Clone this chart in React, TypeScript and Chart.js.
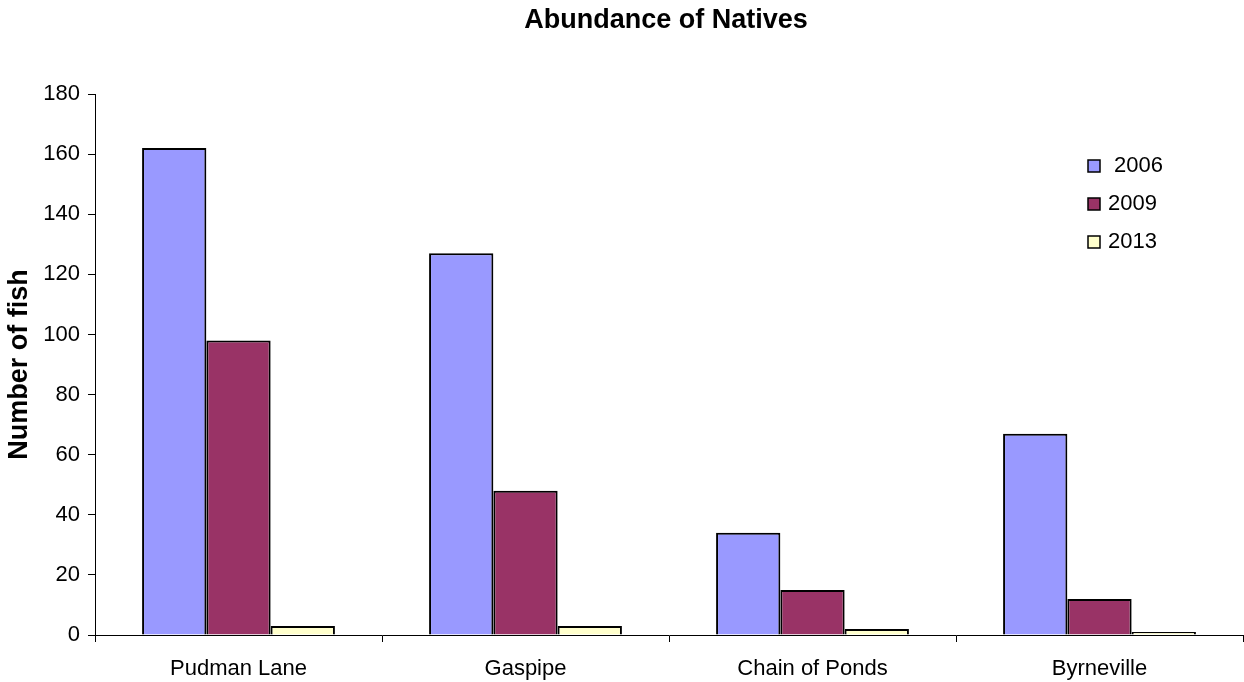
import React, { useEffect, useRef } from "react";
import { Chart, registerables } from "chart.js";

Chart.register(...registerables);

const chartTitle = "Abundance of Natives";
const categories = ["Pudman Lane", "Gaspipe", "Chain of Ponds", "Byrneville"];
const seriesLabels = [" 2006", "2009", "2013"];
const values2006 = [162, 127, 34, 67];
const values2009 = [98, 48, 15, 12];
const values2013 = [3, 3, 2, 1];
const seriesColors = ["#9999FF", "#993366", "#FFFFCC"];
const yTicks = { min: 0, max: 180, step: 20 };

const FONT = "'Liberation Sans', Arial, sans-serif";

const overlayPlugin = {
  id: "overlay",
  afterDraw(chart: any) {
    const { ctx, chartArea } = chart;
    ctx.save();
    // title
    ctx.fillStyle = "#000";
    ctx.font = `bold 27px ${FONT}`;
    ctx.textAlign = "center";
    ctx.textBaseline = "middle";
    ctx.fillText(chartTitle, (chartArea.left + chartArea.right) / 2 - 3, 21);
    // legend
    const boxX = chartArea.right - 155;
    chart.data.datasets.forEach((ds: any, i: number) => {
      const cy = chartArea.top + 72 + i * 38;
      ctx.fillStyle = ds.backgroundColor;
      ctx.fillRect(boxX, cy - 6, 12, 12);
      ctx.lineWidth = 1.5;
      ctx.strokeStyle = "#000";
      ctx.strokeRect(boxX, cy - 6, 12, 12);
      ctx.fillStyle = "#000";
      ctx.font = `22px ${FONT}`;
      ctx.textAlign = "left";
      ctx.textBaseline = "middle";
      ctx.fillText(ds.label, boxX + 20, cy);
    });
    ctx.restore();
  },
};

export default function App() {
  const ref = useRef<HTMLCanvasElement>(null);
  useEffect(() => {
    const chart = new Chart(ref.current!, {
      type: "bar",
      data: {
        labels: categories,
        datasets: [values2006, values2009, values2013].map((d, i) => ({
          label: seriesLabels[i],
          data: d,
          backgroundColor: seriesColors[i],
          borderColor: "#000",
          borderWidth: 2,
          categoryPercentage: 0.672,
          barPercentage: 1,
        })),
      },
      options: {
        animation: false,
        responsive: false,
        devicePixelRatio: 1,
        layout: { padding: { left: 0, right: 1, top: 94, bottom: 0 } },
        plugins: {
          legend: { display: false },
          tooltip: { enabled: false },
          title: { display: false },
        },
        scales: {
          x: {
            offset: true,
            grid: { drawOnChartArea: false, color: "#000", tickLength: 7, offset: true },
            border: { display: true, color: "#000", width: 1 },
            ticks: { color: "#000", font: { family: FONT, size: 22 }, padding: 14, maxRotation: 0 },
            afterFit: (s: any) => {
              s.height = 47;
            },
          },
          y: {
            min: yTicks.min,
            max: yTicks.max,
            ticks: { stepSize: yTicks.step, color: "#000", font: { family: FONT, size: 22 }, padding: 8 },
            grid: { drawOnChartArea: false, color: "#000", tickLength: 7 },
            border: { display: true, color: "#000", width: 1 },
            title: {
              display: true,
              text: "Number of fish",
              color: "#000",
              font: { family: FONT, size: 27, weight: "bold" },
              padding: { top: 3, bottom: 0 },
            },
            afterFit: (s: any) => {
              s.width = 95;
            },
          },
        },
      },
      plugins: [overlayPlugin],
    });
    return () => chart.destroy();
  }, []);
  return (
    <div style={{ position: "fixed", left: 0, top: 0, width: 1244, height: 682, background: "#fff" }}>
      <canvas ref={ref} width={1244} height={682} />
    </div>
  );
}
